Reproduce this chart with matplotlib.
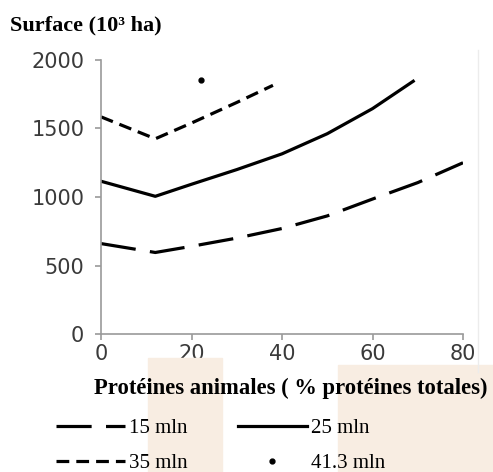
import matplotlib
matplotlib.use("Agg")
import matplotlib.pyplot as plt
from matplotlib.lines import Line2D
from matplotlib.patches import Rectangle

# data
x_15 = [0, 12, 20, 30, 40, 50, 60, 70, 80]
y_15 = [660, 595, 640, 700, 770, 862, 985, 1105, 1250]

x_25 = [0, 12, 20, 30, 40, 50, 60, 69]
y_25 = [1115, 1005, 1093, 1200, 1315, 1462, 1645, 1845]

x_35 = [0, 12, 20, 30, 38]
y_35 = [1585, 1425, 1540, 1690, 1815]

x_41 = [22]
y_41 = [1854]

labels = ["15 mln", "25 mln", "35 mln", "41.3 mln"]
xticks = [0, 20, 40, 60, 80]
yticks = [0, 500, 1000, 1500, 2000]

fig = plt.figure(figsize=(4.93, 4.72), dpi=100)

# faint watermark blocks behind the lower part
fig.patches.append(Rectangle((148 / 493, 0), 74 / 493, 114 / 472, transform=fig.transFigure,
                             color="#f8ede2", zorder=0))
fig.patches.append(Rectangle((338 / 493, 0), 155 / 493, 107 / 472, transform=fig.transFigure,
                             color="#f8ede2", zorder=0))
fig.add_artist(Line2D([478 / 493, 478 / 493], [100 / 472, 422 / 472], color="#ececec", lw=1))

ax = fig.add_axes([101 / 493, 138 / 472, 362 / 493, 274 / 472])
ax.patch.set_alpha(0)

lw = 2.3
l15, = ax.plot(x_15, y_15, color="black", lw=lw, dashes=(11, 4.5))
l25, = ax.plot(x_25, y_25, color="black", lw=lw)
l35, = ax.plot(x_35, y_35, color="black", lw=lw, dashes=(4, 2.2))
l41, = ax.plot(x_41, y_41, "o", color="black", ms=3.5)

ax.set_xlim(0, 80)
ax.set_ylim(0, 2000)
ax.set_xticks(xticks)
ax.set_yticks(yticks)
for s in ["top", "right"]:
    ax.spines[s].set_visible(False)
for s in ["left", "bottom"]:
    ax.spines[s].set_color("#9a9a9a")
    ax.spines[s].set_linewidth(1.2)
ax.tick_params(colors="#9a9a9a", length=4, width=1.2, labelcolor="#3a3a3a", labelsize=15)
ax.tick_params(axis="y", pad=8)
ax.tick_params(axis="x", pad=3)

fig.text(10 / 493, 1 - 25 / 472, "Surface (10³ ha)", family="Liberation Serif",
         weight="bold", fontsize=16, va="center", ha="left")
fig.text(291 / 493, 1 - 388 / 472, "Protéines animales ( % protéines totales)",
         family="Liberation Serif", weight="bold", fontsize=16.3, va="center", ha="center")

# column-major order so that the rows read 15 / 25 and 35 / 41.3
order = [0, 2, 1, 3]
handles = [l15, l25, l35, l41]
leg = fig.legend([handles[i] for i in order], [labels[i] for i in order], loc="upper left",
                 bbox_to_anchor=(46 / 493, 1 - 408 / 472), ncol=2, frameon=False,
                 prop={"family": "Liberation Serif", "size": 15},
                 handlelength=3.3, handletextpad=0.2, columnspacing=2.4,
                 labelspacing=0.75, borderpad=0)

fig.savefig("out.png", dpi=100)
